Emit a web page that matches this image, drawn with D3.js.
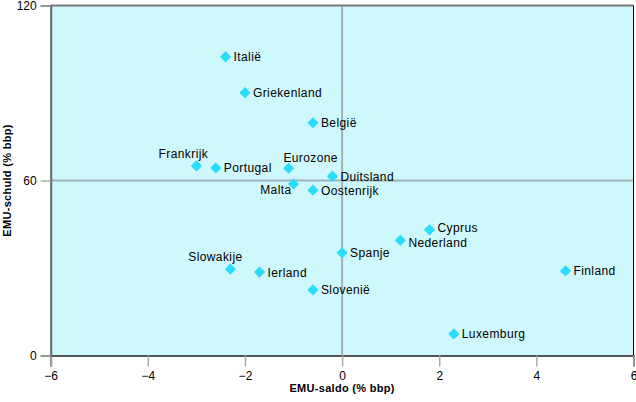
<!DOCTYPE html>
<html><head><meta charset="utf-8">
<script src="https://cdn.jsdelivr.net/npm/d3@7"></script>
<style>body{margin:0;background:#fff}svg{display:block}</style>
</head><body>
<script>
const countries = ["Italië","Griekenland","België","Frankrijk","Portugal","Eurozone","Duitsland","Malta","Oostenrijk","Cyprus","Nederland","Spanje","Slowakije","Ierland","Finland","Slovenië","Luxemburg"];
const saldo = [-2.4,-2.0,-0.6,-3.0,-2.6,-1.1,-0.2,-1.0,-0.6,1.8,1.2,0.0,-2.3,-1.7,4.6,-0.6,2.3];
const schuld = [102.4,90.1,79.8,65.0,64.3,64.2,61.5,58.8,56.7,43.1,39.5,35.2,29.6,28.6,29.0,22.5,7.4];
const xTicks = [-6,-4,-2,0,2,4,6];
const yTicks = [0,60,120];
const xTitle = "EMU-saldo (% bbp)";
const yTitle = "EMU-schuld (% bbp)";

const W = 636, H = 402;
const L = 50.7, R = 633.5, T = 5.5, B = 355.5;
const svg = d3.select("body").append("svg").attr("width", W).attr("height", H);
const x = d3.scaleLinear().domain([-6, 6]).range([L, R]);
const y = d3.scaleLinear().domain([0, 120]).range([B, T]);
const font = "'Liberation Sans', Arial, sans-serif";

svg.append("rect").attr("x", L).attr("y", T).attr("width", R - L).attr("height", B - T).attr("fill", "#cff8fd");

// crosshair
svg.append("line").attr("x1", x(0)).attr("x2", x(0)).attr("y1", T).attr("y2", B).attr("stroke", "#9db3b6").attr("stroke-width", 2);
svg.append("line").attr("x1", L).attr("x2", R).attr("y1", y(60)).attr("y2", y(60)).attr("stroke", "#9db3b6").attr("stroke-width", 2);

// borders
svg.append("line").attr("x1", L).attr("x2", R).attr("y1", T).attr("y2", T).attr("stroke", "#777").attr("stroke-width", 2);
svg.append("line").attr("x1", R).attr("x2", R).attr("y1", T).attr("y2", B).attr("stroke", "#000").attr("stroke-width", 1);

// axes
const xAxis = svg.append("g").attr("transform", `translate(0,${B})`)
  .call(d3.axisBottom(x).tickValues(xTicks).tickSize(11).tickPadding(5).tickFormat(d3.format("d")));
const yAxis = svg.append("g").attr("transform", `translate(${L},0)`)
  .call(d3.axisLeft(y).tickValues(yTicks).tickSize(10).tickPadding(4).tickFormat(d3.format("d")));
[xAxis, yAxis].forEach(g => {
  g.select(".domain").attr("stroke", "#666").attr("stroke-width", 2);
  g.selectAll(".tick line").attr("stroke", "#aaa").attr("stroke-width", 1.5);
  g.selectAll(".tick text").attr("font-family", font).attr("font-size", 12).attr("fill", "#000");
});
xAxis.select(".domain").attr("stroke", "#555");

// titles
svg.append("text").attr("x", (L + R) / 2).attr("y", 392).attr("text-anchor", "middle")
  .attr("font-family", font).attr("font-size", 11).attr("font-weight", "bold").attr("letter-spacing", 0.3).text(xTitle);
svg.append("text").attr("transform", `translate(11,${(T + B) / 2}) rotate(-90)`).attr("text-anchor", "middle")
  .attr("font-family", font).attr("font-size", 11).attr("font-weight", "bold").attr("letter-spacing", 0.3).text(yTitle);

const data = countries.map((c, i) => ({ name: c, x: saldo[i], y: schuld[i] }));

// markers
const s = 5.6;
svg.append("g").selectAll("path").data(data).join("path")
  .attr("d", d => { const cx = x(d.x), cy = y(d.y); return `M${cx},${cy - s}L${cx + s},${cy}L${cx},${cy + s}L${cx - s},${cy}Z`; })
  .attr("fill", "#29dcfc");

// label placement (layout, not data)
const place = {
  "Frankrijk": { anchor: "middle", dx: -13, dy: -8 },
  "Eurozone": { anchor: "middle", dx: 22, dy: -6 },
  "Malta": { anchor: "end", dx: -2, dy: 10 },
  "Slowakije": { anchor: "middle", dx: -15, dy: -8.5 },
  "Cyprus": { anchor: "start", dx: 8, dy: 2.5 },
  "Nederland": { anchor: "start", dx: 8, dy: 7 }
};
svg.append("g").selectAll("text").data(data).join("text")
  .attr("x", d => x(d.x) + (place[d.name] ? place[d.name].dx : 8))
  .attr("y", d => y(d.y) + (place[d.name] ? place[d.name].dy : 4.5))
  .attr("text-anchor", d => place[d.name] ? place[d.name].anchor : "start")
  .attr("font-family", font).attr("font-size", 12).attr("letter-spacing", 0.4).attr("fill", "#000")
  .text(d => d.name);
</script>
</body></html>
